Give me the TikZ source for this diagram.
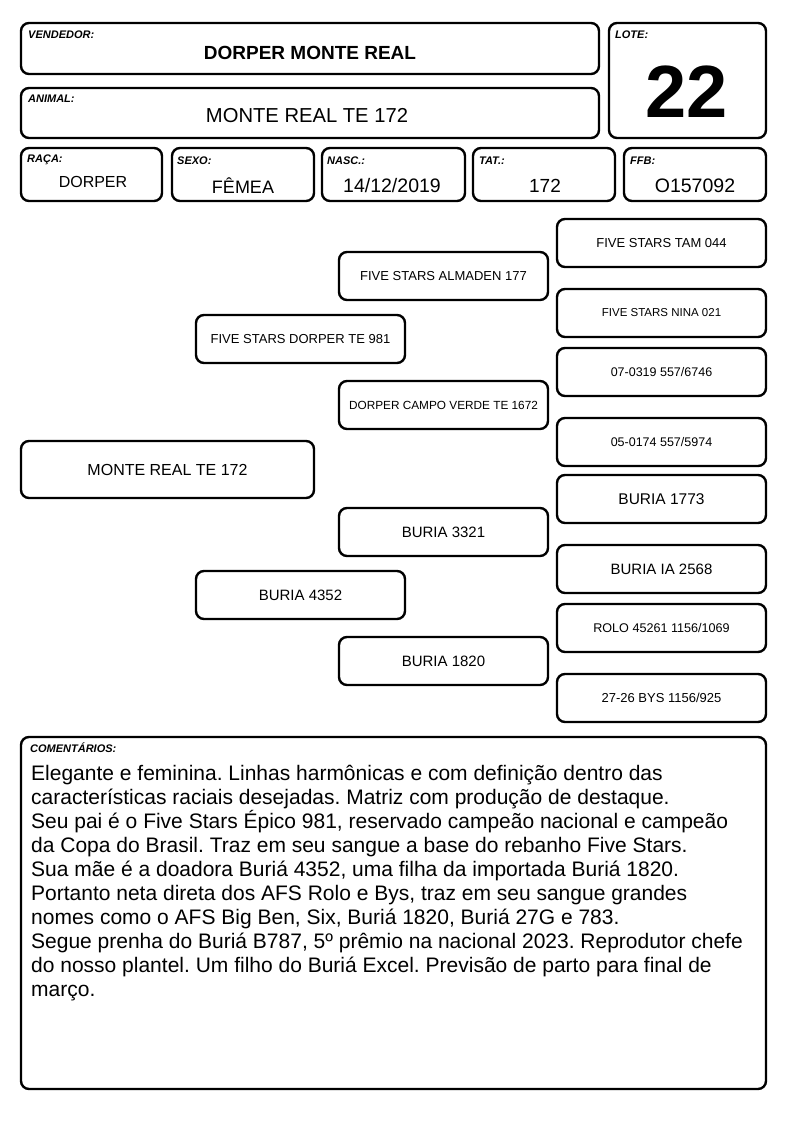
\documentclass[tikz,border=0pt]{standalone}
\usepackage{fontspec}
\setmainfont{Liberation Sans}
\frenchspacing
\begin{document}
\begin{tikzpicture}[x=1pt,y=-1pt,
  box/.style={draw, line width=2.4pt, rounded corners=8pt, inner sep=0pt},
  lbl/.style={anchor=north west, inner sep=0pt, font=\fontsize{11}{12}\selectfont\bfseries\itshape},
  val/.style={inner sep=0pt}]
\useasboundingbox[fill=white] (0,0) rectangle (794,1123);
% header boxes
\node[box, minimum width=578, minimum height=51] (vend) at (310,48.5) {};
\node[lbl] (vendl) at (28,31) {VENDEDOR:};
\node[val, font=\fontsize{19}{21}\selectfont\bfseries] (vendv) at (310,53) {DORPER MONTE REAL};
\node[box, minimum width=578, minimum height=50] (anim) at (310,113) {};
\node[lbl] (animl) at (28,95) {ANIMAL:};
\node[val, font=\fontsize{20.2}{22}\selectfont] (animv) at (307,116) {MONTE REAL TE 172};
\node[box, minimum width=157, minimum height=115] (lote) at (687.5,80.5) {};
\node[lbl] (lotel) at (615,31) {LOTE:};
\node[val, font=\fontsize{74}{80}\selectfont\bfseries] (lotev) at (687,92) {22};
% small boxes
\node[box, minimum width=141, minimum height=53] (raca) at (91.5,174.5) {};
\node[lbl] (racal) at (27,155) {RAÇA:};
\node[val, font=\fontsize{16}{18}\selectfont] (racav) at (93,182) {DORPER};
\node[box, minimum width=142, minimum height=53] (sexo) at (243,174.5) {};
\node[lbl] (sexol) at (177,157) {SEXO:};
\node[val, font=\fontsize{18}{20}\selectfont] (sexov) at (243,186) {FÊMEA};
\node[box, minimum width=143, minimum height=53] (nasc) at (393.5,174.5) {};
\node[lbl] (nascl) at (327,157) {NASC.:};
\node[val, font=\fontsize{19.5}{21}\selectfont] (nascv) at (392,186) {14/12/2019};
\node[box, minimum width=142, minimum height=53] (tat) at (544,174.5) {};
\node[lbl] (tatl) at (479,157) {TAT.:};
\node[val, font=\fontsize{19}{21}\selectfont] (tatv) at (545,186) {172};
\node[box, minimum width=142, minimum height=53] (ffb) at (695,174.5) {};
\node[lbl] (ffbl) at (630,157) {FFB:};
\node[val, font=\fontsize{19.5}{21}\selectfont] (ffbv) at (695,186) {O157092};
% pedigree column 3
\node[box, minimum width=209, minimum height=48, font=\fontsize{13}{15}\selectfont] (g1) at (661.5,243) {FIVE STARS TAM 044};
\node[box, minimum width=209, minimum height=48, font=\fontsize{11.5}{14}\selectfont] (g2) at (661.5,313) {FIVE STARS NINA 021};
\node[box, minimum width=209, minimum height=48, font=\fontsize{12.5}{14}\selectfont] (g3) at (661.5,372) {07-0319 557/6746};
\node[box, minimum width=209, minimum height=48, font=\fontsize{12.5}{14}\selectfont] (g4) at (661.5,442) {05-0174 557/5974};
\node[box, minimum width=209, minimum height=48, font=\fontsize{15.5}{17}\selectfont] (g5) at (661.5,499) {BURIA 1773};
\node[box, minimum width=209, minimum height=48, font=\fontsize{15}{17}\selectfont] (g6) at (661.5,569) {BURIA IA 2568};
\node[box, minimum width=209, minimum height=48, font=\fontsize{12.6}{14}\selectfont] (g7) at (661.5,628) {ROLO 45261 1156/1069};
\node[box, minimum width=209, minimum height=48, font=\fontsize{13}{14}\selectfont] (g8) at (661.5,698) {27-26 BYS 1156/925};
% column 2
\node[box, minimum width=209, minimum height=48, font=\fontsize{13}{15}\selectfont] (p1) at (443.5,276) {FIVE STARS ALMADEN 177};
\node[box, minimum width=209, minimum height=48, font=\fontsize{11.8}{14}\selectfont] (p2) at (443.5,405) {DORPER CAMPO VERDE TE 1672};
\node[box, minimum width=209, minimum height=48, font=\fontsize{15}{17}\selectfont] (p3) at (443.5,532) {BURIA 3321};
\node[box, minimum width=209, minimum height=48, font=\fontsize{15}{17}\selectfont] (p4) at (443.5,661) {BURIA 1820};
% column 1
\node[box, minimum width=209, minimum height=48, font=\fontsize{13}{15}\selectfont] (s1) at (300.5,339) {FIVE STARS DORPER TE 981};
\node[box, minimum width=209, minimum height=48, font=\fontsize{15}{17}\selectfont] (s2) at (300.5,595) {BURIA 4352};
% column 0
\node[box, minimum width=293, minimum height=57, font=\fontsize{16}{18}\selectfont] (me) at (167.5,469.5) {MONTE REAL TE 172};
% comments
\node[box, minimum width=745, minimum height=352] (com) at (393.5,913) {};
\node[lbl] (coml) at (30,743) {COMENTÁRIOS:};
\node[anchor=north west, inner sep=0pt, align=left, font=\fontsize{21}{24}\selectfont] (comt) at (31,765) {Elegante e feminina. Linhas harmônicas e com definição dentro das\\características raciais desejadas. Matriz com produção de destaque.\\Seu pai é o Five Stars Épico 981, reservado campeão nacional e campeão\\da Copa do Brasil. Traz em seu sangue a base do rebanho Five Stars.\\Sua mãe é a doadora Buriá 4352, uma filha da importada Buriá 1820.\\Portanto neta direta dos AFS Rolo e Bys, traz em seu sangue grandes\\nomes como o AFS Big Ben, Six, Buriá 1820, Buriá 27G e 783.\\Segue prenha do Buriá B787, 5º prêmio na nacional 2023. Reprodutor chefe\\do nosso plantel. Um filho do Buriá Excel. Previsão de parto para final de\\março.};
\end{tikzpicture}
\end{document}
